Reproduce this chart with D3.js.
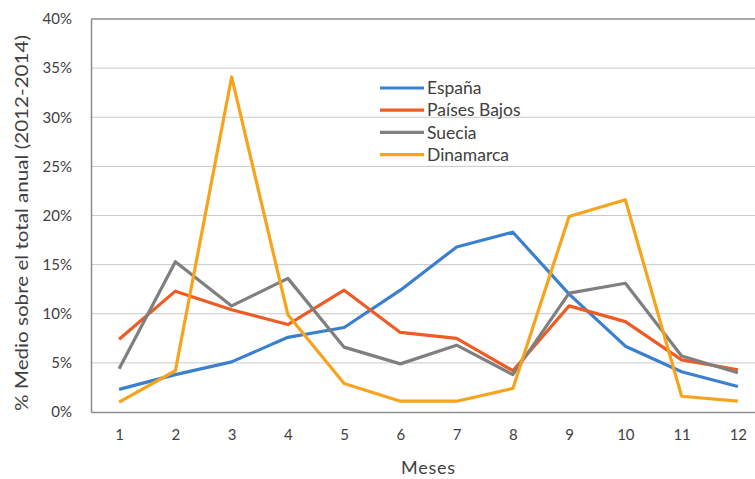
<!DOCTYPE html>
<html lang="es">
<head>
    <meta charset="UTF-8">
    <title>% medio mensual</title>
    <script src="https://d3js.org/d3.v7.min.js"></script>
    <style>
        body { margin: 0; background: #fff; }
        text { font-family: Lato, "Open Sans", sans-serif; fill: #404040; }
    </style>
</head>
<body>
    <svg width="755" height="479"></svg>
    <script>
        // months on x axis
        const meses = [1, 2, 3, 4, 5, 6, 7, 8, 9, 10, 11, 12];
        const yTicks = [0, 5, 10, 15, 20, 25, 30, 35, 40];

        // values (%)
        const espana     = [2.3, 3.8, 5.1, 7.6, 8.6, 12.4, 16.8, 18.3, 12.0, 6.7, 4.1, 2.6];
        const paisesBajos = [7.4, 12.3, 10.4, 8.9, 12.4, 8.1, 7.5, 4.2, 10.8, 9.2, 5.3, 4.3];
        const suecia     = [4.4, 15.3, 10.8, 13.6, 6.6, 4.9, 6.8, 3.8, 12.1, 13.1, 5.7, 4.0];
        const dinamarca  = [1.0, 4.2, 34.1, 9.9, 2.9, 1.1, 1.1, 2.4, 19.9, 21.6, 1.6, 1.1];

        const series = [
            { name: 'España', values: espana, color: '#3b80ce' },
            { name: 'Países Bajos', values: paisesBajos, color: '#ef5b25' },
            { name: 'Suecia', values: suecia, color: '#7f7f7f' },
            { name: 'Dinamarca', values: dinamarca, color: '#f8a31c' }
        ];

        const svg = d3.select('svg');
        const plot = { left: 91, top: 19, right: 766, bottom: 412 };

        const x = d3.scalePoint()
            .domain(meses)
            .range([plot.left, plot.right])
            .padding(0.5);

        const y = d3.scaleLinear()
            .domain([0, 40])
            .range([plot.bottom, plot.top]);

        // gridlines
        svg.append('g')
            .selectAll('line')
            .data(yTicks.slice(1))
            .join('line')
            .attr('x1', plot.left).attr('x2', plot.right)
            .attr('y1', d => y(d)).attr('y2', d => y(d))
            .attr('stroke', d => d === 40 ? '#8c8c8c' : '#c9c9c9')
            .attr('stroke-width', d => d === 40 ? 1.5 : 1);

        // y axis
        const yAxis = d3.axisLeft(y)
            .tickValues(yTicks)
            .tickFormat(d => d + '%')
            .tickSize(0)
            .tickPadding(19);
        const gy = svg.append('g')
            .attr('transform', `translate(${plot.left},0)`)
            .call(yAxis);
        gy.select('.domain').attr('stroke', '#8c8c8c').attr('stroke-width', 1.5);
        gy.selectAll('text').style('font-size', '15px').style('font-family', 'Lato, sans-serif').attr('fill', '#3a3a3a');

        // x axis
        const xAxis = d3.axisBottom(x).tickSize(0).tickPadding(17);
        const gx = svg.append('g')
            .attr('transform', `translate(0,${plot.bottom})`)
            .call(xAxis);
        gx.select('.domain').attr('stroke', '#8c8c8c').attr('stroke-width', 1.5);
        gx.selectAll('text').style('font-size', '15px').style('font-family', 'Lato, sans-serif').attr('fill', '#3a3a3a');

        // lines
        const line = d3.line()
            .x((d, i) => x(meses[i]))
            .y(d => y(d));

        svg.append('g')
            .selectAll('path')
            .data(series)
            .join('path')
            .attr('d', d => line(d.values))
            .attr('fill', 'none')
            .attr('stroke', d => d.color)
            .attr('stroke-width', 3.2)
            .attr('stroke-linejoin', 'round');

        // legend
        const legend = svg.append('g')
            .attr('transform', 'translate(380,88)');
        const rows = legend.selectAll('g')
            .data(series)
            .join('g')
            .attr('transform', (d, i) => `translate(0,${i * 22.2})`);
        rows.append('line')
            .attr('x1', 0).attr('x2', 44)
            .attr('stroke', d => d.color)
            .attr('stroke-width', 3.2);
        rows.append('text')
            .attr('x', 47)
            .attr('dy', '0.35em')
            .style('font-size', '17.5px')
            .attr('fill', '#262626')
            .text(d => d.name);

        // axis titles
        svg.append('text')
            .attr('x', 428).attr('y', 474)
            .attr('text-anchor', 'middle')
            .attr('textLength', 54)
            .style('font-size', '18px')
            .attr('fill', '#595959')
            .text('Meses');

        svg.append('text')
            .attr('transform', 'translate(28,223) rotate(-90)')
            .attr('text-anchor', 'middle')
            .attr('textLength', 376)
            .attr('lengthAdjust', 'spacingAndGlyphs')
            .style('font-size', '18px')
            .attr('fill', '#595959')
            .text('% Medio sobre el total anual (2012-2014)');
    </script>
</body>
</html>
